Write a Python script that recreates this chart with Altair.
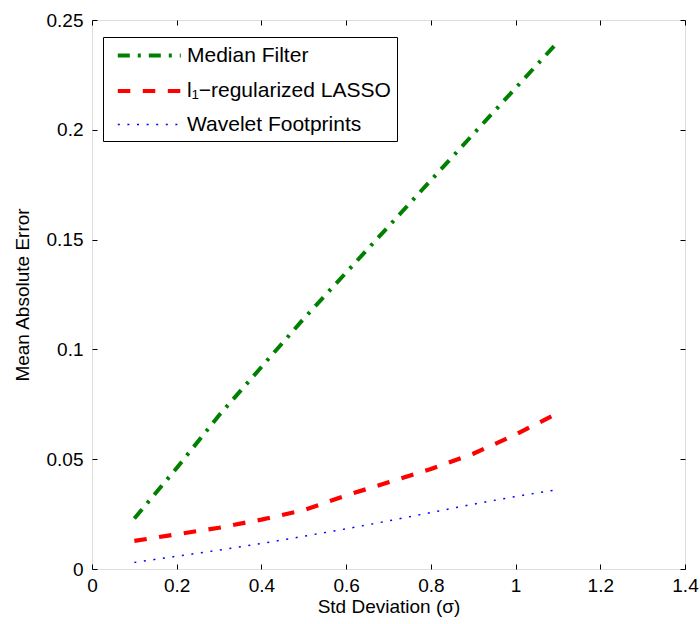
import altair as alt
import pandas as pd

sigma = [0.1, 0.2, 0.3, 0.4, 0.5, 0.6, 0.7, 0.8, 0.9, 1.0, 1.1]
median_filter = [0.023, 0.046, 0.070, 0.092, 0.114, 0.135, 0.156, 0.177, 0.198, 0.219, 0.240]
lasso = [0.0128, 0.0158, 0.0188, 0.0225, 0.0268, 0.0335, 0.0395, 0.0455, 0.0525, 0.0612, 0.0710]
wavelet = [0.0030, 0.0058, 0.0086, 0.0116, 0.0149, 0.0183, 0.0219, 0.0257, 0.0295, 0.0330, 0.0362]
series_names = ["Median Filter", "l\u2081\u2212regularized LASSO", "Wavelet Footprints"]
series_colors = ["#008000", "#ff0000", "#0000ff"]
x_ticks = [0, 0.2, 0.4, 0.6, 0.8, 1.0, 1.2, 1.4]
y_ticks = [0, 0.05, 0.1, 0.15, 0.2, 0.25]

rows = []
for name, vals in zip(series_names, [median_filter, lasso, wavelet]):
    for s, v in zip(sigma, vals):
        rows.append({"sigma": s, "mae": v, "series": name})
df = pd.DataFrame(rows)

W, H = 593, 549
FONT = "Liberation Sans"

leg = alt.Legend(
    title=None, orient="none", legendX=11, legendY=17,
    symbolType="M-0.4,0H5.6", symbolSize=441, labelOffset=52,
    padding=6, rowPadding=12, strokeColor="black", fillColor="white",
    labelFont=FONT, labelFontSize=21, labelColor="black", labelLimit=400,
)

chart = alt.Chart(df).mark_line(strokeCap="butt").encode(
    x=alt.X("sigma:Q",
            scale=alt.Scale(domain=[0, 1.4], nice=False, zero=False),
            axis=alt.Axis(values=x_ticks, format="~g", title="Std Deviation (\u03c3)",
                          grid=True, gridDash=[5, H - 10, 5], gridColor="black",
                          gridOpacity=1, gridWidth=1, ticks=False, domain=False,
                          labelPadding=7, labelFont=FONT, labelFontSize=19,
                          labelColor="black", titleFont=FONT, titleFontSize=19,
                          titleFontWeight="normal", titleColor="black", titlePadding=2,
                          labelFlush=False)),
    y=alt.Y("mae:Q",
            scale=alt.Scale(domain=[0, 0.25], nice=False, zero=False),
            axis=alt.Axis(values=y_ticks, format="~g", title="Mean Absolute Error",
                          grid=True, gridDash=[5, W - 10, 5], gridColor="black",
                          gridOpacity=1, gridWidth=1, ticks=False, domain=False,
                          labelPadding=9, labelFont=FONT, labelFontSize=19,
                          labelColor="black", titleFont=FONT, titleFontSize=19,
                          titleFontWeight="normal", titleColor="black", titlePadding=14,
                          labelFlush=False)),
    color=alt.Color("series:N", scale=alt.Scale(domain=series_names, range=series_colors), legend=leg),
    strokeDash=alt.StrokeDash("series:N",
                              scale=alt.Scale(domain=series_names,
                                              range=[[12, 8, 3, 8], [12.5, 12.5], [2, 7.6]]),
                              legend=leg),
    strokeWidth=alt.StrokeWidth("series:N",
                                scale=alt.Scale(type="ordinal", domain=series_names, range=[4, 4.2, 1.5]),
                                legend=leg),
).properties(
    width=W, height=H,
    padding={"left": 92, "top": 20, "right": 15, "bottom": 55},
    autosize=alt.AutoSizeParams(type="none"),
).configure_view(stroke="black", strokeWidth=1).configure(background="white")

chart.save("out.html", embed_options={"renderer": "svg", "actions": False})
